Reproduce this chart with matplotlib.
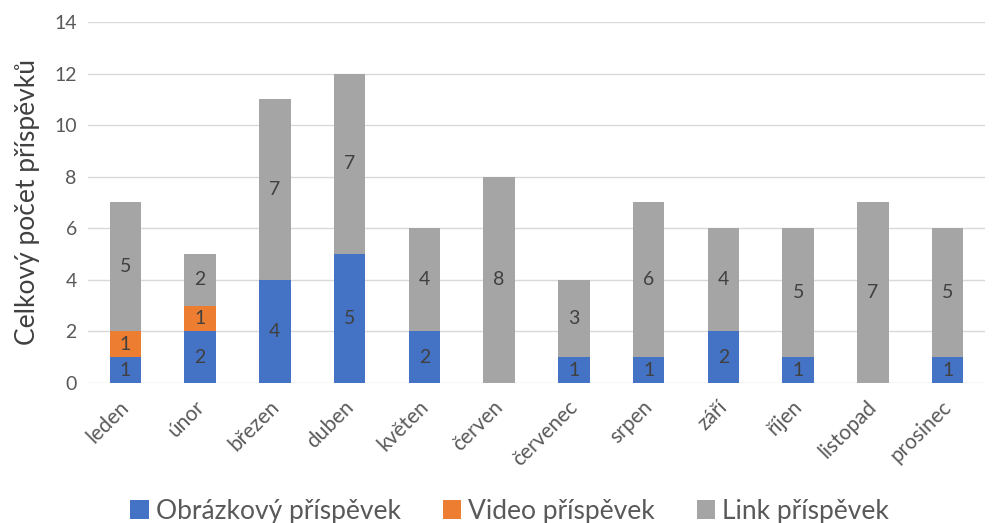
import matplotlib
matplotlib.use("Agg")
from matplotlib import pyplot as plt
from matplotlib import transforms
import numpy as np

# Data
months = ["leden", "únor", "březen", "duben", "květen", "červen",
          "červenec", "srpen", "září", "říjen", "listopad", "prosinec"]
obrazek = [1, 2, 4, 5, 2, 0, 1, 1, 2, 1, 0, 1]
video = [1, 1, 0, 0, 0, 0, 0, 0, 0, 0, 0, 0]
link = [5, 2, 7, 7, 4, 8, 3, 6, 4, 5, 7, 5]

series = [("Obrázkový příspěvek", obrazek, "#4472C4"),
          ("Video příspěvek", video, "#ED7D31"),
          ("Link příspěvek", link, "#A5A5A5")]

plt.rcParams["font.family"] = ["Lato", "DejaVu Sans"]

fig = plt.figure(figsize=(9.95, 5.23), dpi=100)
ax = fig.add_axes([0.0884, 0.2677, 0.9016, 0.6903])

x = np.arange(len(months))
bottom = np.zeros(len(months))
for name, vals, color in series:
    vals = np.array(vals, dtype=float)
    bars = ax.bar(x, vals, width=0.42, bottom=bottom, color=color,
                  label=name, zorder=3)
    for b, v in zip(bars, vals):
        if v > 0:
            ax.text(b.get_x() + b.get_width() / 2, b.get_y() + v / 2,
                    f"{int(v)}", ha="center", va="center",
                    fontsize=14, color="#404040", zorder=4)
    bottom += vals

ax.set_xlim(-0.5, len(months) - 0.5)
ax.set_ylim(0, 14)
ax.set_yticks(range(0, 15, 2))
ax.yaxis.grid(True, color="#D9D9D9", linewidth=1, zorder=0)
for s in ax.spines.values():
    s.set_visible(False)
ax.tick_params(axis="both", length=0, colors="#595959", labelsize=14)
ax.tick_params(axis="y", pad=8)

ax.set_xticks(x)
ax.set_xticklabels(months, rotation=45, ha="right", va="center",
                   rotation_mode="anchor", fontsize=15)
ax.tick_params(axis="x", pad=15)
# small sideways nudge of the rotated labels
shift = transforms.ScaledTranslation(1 / 100, 0, fig.dpi_scale_trans)
for lbl in ax.get_xticklabels():
    lbl.set_transform(lbl.get_transform() + shift)

ax.set_ylabel("Celkový počet příspěvků", fontsize=19, color="#404040",
              labelpad=10)

ax.legend(loc="upper center", bbox_to_anchor=(0.47, -0.255), ncol=3,
          frameon=False, fontsize=19, labelcolor="#595959",
          handlelength=0.7, handleheight=0.7, handletextpad=0.25,
          columnspacing=1.6)

fig.savefig("out.png", dpi=100)
